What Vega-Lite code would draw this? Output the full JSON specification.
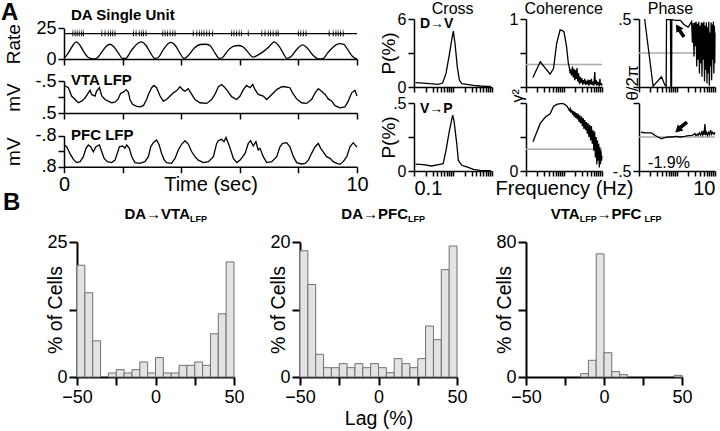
{
"$schema": "https://vega.github.io/schema/vega-lite/v6.json",
"width": 720,
"height": 431,
"padding": 0,
"autosize": {"type": "none"},
"background": "white",
"config": {
  "font": "Liberation Sans",
  "view": {"stroke": null},
  "axis": {"domainColor": "#000", "domainWidth": 1.5, "tickColor": "#000", "tickWidth": 1.5, "labelColor": "#000", "titleColor": "#000", "grid": false, "titleFontWeight": "normal", "labelFontSize": 18, "titleFontSize": 19, "tickSize": 6, "labelPadding": 2, "labelFlush": false, "labelOverlap": false, "labelBound": false},
  "line": {"color": "#000", "strokeWidth": 1.3},
  "text": {"color": "#000"}
},
"datasets": {
  "rate": [{"t":0,"r":0.5},{"t":0.15,"r":5},{"t":0.3,"r":11},{"t":0.42,"r":14},{"t":0.55,"r":11},{"t":0.7,"r":5},{"t":0.85,"r":1},{"t":1.0,"r":0},{"t":1.1,"r":0.5},{"t":1.3,"r":6},{"t":1.45,"r":10.5},{"t":1.57,"r":12},{"t":1.7,"r":10},{"t":1.85,"r":5},{"t":2.0,"r":0.5},{"t":2.1,"r":0.5},{"t":2.3,"r":7},{"t":2.5,"r":12.5},{"t":2.65,"r":14},{"t":2.8,"r":11},{"t":2.95,"r":5},{"t":3.1,"r":0.5},{"t":3.2,"r":1},{"t":3.4,"r":8},{"t":3.55,"r":12.5},{"t":3.65,"r":13.5},{"t":3.8,"r":11},{"t":3.95,"r":5},{"t":4.1,"r":0.5},{"t":4.25,"r":3},{"t":4.45,"r":9},{"t":4.65,"r":11.8},{"t":4.85,"r":12},{"t":5.0,"r":10.5},{"t":5.15,"r":5},{"t":5.3,"r":0.5},{"t":5.4,"r":1},{"t":5.6,"r":7},{"t":5.8,"r":10.5},{"t":5.95,"r":11},{"t":6.1,"r":10},{"t":6.3,"r":5},{"t":6.45,"r":1.5},{"t":6.6,"r":3},{"t":6.8,"r":6},{"t":7.0,"r":10},{"t":7.17,"r":14},{"t":7.35,"r":10},{"t":7.5,"r":4},{"t":7.6,"r":0.5},{"t":7.75,"r":2},{"t":7.95,"r":8},{"t":8.15,"r":11.5},{"t":8.3,"r":9},{"t":8.5,"r":3},{"t":8.7,"r":0},{"t":8.85,"r":0.5},{"t":9.0,"r":5},{"t":9.2,"r":10},{"t":9.4,"r":12.5},{"t":9.55,"r":12},{"t":9.7,"r":7},{"t":9.85,"r":2},{"t":10,"r":0}],
  "spikes": [{"t":0.30},{"t":0.38},{"t":0.45},{"t":0.52},{"t":0.60},{"t":0.66},{"t":1.29},{"t":1.40},{"t":1.51},{"t":1.59},{"t":1.66},{"t":1.74},{"t":2.37},{"t":2.46},{"t":2.57},{"t":2.65},{"t":2.71},{"t":2.80},{"t":3.37},{"t":3.45},{"t":3.53},{"t":3.62},{"t":3.71},{"t":3.79},{"t":4.41},{"t":4.53},{"t":4.62},{"t":4.70},{"t":4.78},{"t":4.87},{"t":4.96},{"t":5.07},{"t":5.72},{"t":5.80},{"t":5.89},{"t":5.98},{"t":6.06},{"t":6.29},{"t":6.75},{"t":6.86},{"t":6.97},{"t":7.05},{"t":7.14},{"t":7.24},{"t":7.31},{"t":8.0},{"t":8.08},{"t":8.17},{"t":8.26},{"t":9.05},{"t":9.19},{"t":9.28},{"t":9.36},{"t":9.44},{"t":9.53}],
  "vta": [{"t":0.01,"v":-0.36},{"t":0.15,"v":-0.29},{"t":0.26,"v":-0.03},{"t":0.38,"v":0.08},{"t":0.49,"v":0.18},{"t":0.6,"v":0.13},{"t":0.72,"v":0.03},{"t":0.83,"v":-0.13},{"t":0.89,"v":-0.21},{"t":0.94,"v":-0.08},{"t":1.06,"v":-0.03},{"t":1.11,"v":-0.18},{"t":1.21,"v":-0.29},{"t":1.29,"v":-0.03},{"t":1.4,"v":0.08},{"t":1.51,"v":0.13},{"t":1.63,"v":0.18},{"t":1.74,"v":0.16},{"t":1.85,"v":0.06},{"t":1.93,"v":-0.11},{"t":2.03,"v":-0.15},{"t":2.12,"v":-0.23},{"t":2.2,"v":-0.15},{"t":2.25,"v":0.08},{"t":2.34,"v":0.23},{"t":2.48,"v":0.29},{"t":2.59,"v":0.31},{"t":2.71,"v":0.27},{"t":2.82,"v":0.08},{"t":2.88,"v":-0.08},{"t":2.99,"v":-0.29},{"t":3.07,"v":-0.36},{"t":3.16,"v":-0.29},{"t":3.28,"v":-0.03},{"t":3.39,"v":0.13},{"t":3.5,"v":0.08},{"t":3.62,"v":-0.03},{"t":3.73,"v":-0.13},{"t":3.85,"v":-0.2},{"t":3.96,"v":-0.32},{"t":4.05,"v":-0.23},{"t":4.13,"v":-0.18},{"t":4.24,"v":-0.26},{"t":4.36,"v":-0.08},{"t":4.47,"v":0.08},{"t":4.64,"v":0.18},{"t":4.87,"v":0.2},{"t":5.04,"v":0.08},{"t":5.15,"v":-0.08},{"t":5.27,"v":-0.32},{"t":5.38,"v":-0.39},{"t":5.46,"v":-0.32},{"t":5.55,"v":-0.23},{"t":5.72,"v":-0.01},{"t":5.89,"v":0.08},{"t":6.01,"v":-0.03},{"t":6.12,"v":-0.23},{"t":6.23,"v":-0.36},{"t":6.35,"v":-0.29},{"t":6.44,"v":-0.39},{"t":6.52,"v":-0.23},{"t":6.63,"v":-0.08},{"t":6.8,"v":-0.03},{"t":6.92,"v":0.08},{"t":7.09,"v":-0.08},{"t":7.26,"v":-0.23},{"t":7.43,"v":-0.32},{"t":7.54,"v":-0.32},{"t":7.71,"v":-0.29},{"t":7.8,"v":-0.13},{"t":7.94,"v":0.06},{"t":8.11,"v":0.18},{"t":8.28,"v":0.2},{"t":8.45,"v":0.08},{"t":8.57,"v":-0.13},{"t":8.68,"v":-0.26},{"t":8.79,"v":-0.18},{"t":8.91,"v":-0.08},{"t":9.02,"v":0.06},{"t":9.14,"v":0.13},{"t":9.25,"v":0.27},{"t":9.42,"v":0.34},{"t":9.59,"v":0.31},{"t":9.7,"v":0.13},{"t":9.82,"v":-0.13},{"t":9.93,"v":-0.21},{"t":10,"v":-0.03}],
  "pfc": [{"t":0.01,"v":-0.32},{"t":0.09,"v":-0.23},{"t":0.2,"v":0.11},{"t":0.32,"v":0.42},{"t":0.43,"v":0.59},{"t":0.55,"v":0.54},{"t":0.66,"v":0.28},{"t":0.75,"v":-0.15},{"t":0.83,"v":-0.32},{"t":0.91,"v":-0.23},{"t":1.0,"v":0.03},{"t":1.09,"v":-0.23},{"t":1.21,"v":-0.32},{"t":1.29,"v":0.03},{"t":1.37,"v":0.37},{"t":1.48,"v":0.54},{"t":1.63,"v":0.59},{"t":1.74,"v":0.46},{"t":1.82,"v":0.11},{"t":1.89,"v":-0.23},{"t":2.0,"v":-0.27},{"t":2.08,"v":-0.15},{"t":2.14,"v":-0.32},{"t":2.23,"v":-0.15},{"t":2.31,"v":0.28},{"t":2.42,"v":0.59},{"t":2.59,"v":0.63},{"t":2.76,"v":0.54},{"t":2.88,"v":0.28},{"t":2.96,"v":-0.23},{"t":3.05,"v":-0.44},{"t":3.16,"v":-0.58},{"t":3.25,"v":-0.32},{"t":3.33,"v":0.11},{"t":3.41,"v":0.42},{"t":3.5,"v":0.59},{"t":3.67,"v":0.63},{"t":3.79,"v":0.37},{"t":3.9,"v":-0.06},{"t":4.02,"v":-0.37},{"t":4.13,"v":-0.54},{"t":4.24,"v":-0.37},{"t":4.36,"v":0.03},{"t":4.47,"v":0.28},{"t":4.58,"v":0.46},{"t":4.76,"v":0.59},{"t":4.93,"v":0.54},{"t":5.1,"v":0.28},{"t":5.21,"v":-0.4},{"t":5.27,"v":-0.54},{"t":5.38,"v":-0.61},{"t":5.46,"v":-0.49},{"t":5.53,"v":-0.71},{"t":5.61,"v":-0.4},{"t":5.67,"v":-0.15},{"t":5.78,"v":0.37},{"t":5.9,"v":0.59},{"t":6.01,"v":0.46},{"t":6.18,"v":0.11},{"t":6.29,"v":-0.4},{"t":6.37,"v":-0.54},{"t":6.46,"v":-0.27},{"t":6.55,"v":-0.49},{"t":6.63,"v":-0.06},{"t":6.69,"v":-0.15},{"t":6.8,"v":0.28},{"t":6.92,"v":0.59},{"t":7.09,"v":0.54},{"t":7.26,"v":0.28},{"t":7.37,"v":-0.23},{"t":7.46,"v":-0.4},{"t":7.6,"v":-0.44},{"t":7.71,"v":-0.23},{"t":7.83,"v":0.28},{"t":7.94,"v":0.59},{"t":8.11,"v":0.66},{"t":8.23,"v":0.63},{"t":8.34,"v":0.46},{"t":8.45,"v":0.11},{"t":8.57,"v":-0.23},{"t":8.68,"v":-0.4},{"t":8.76,"v":-0.15},{"t":8.85,"v":0.03},{"t":8.96,"v":0.28},{"t":9.08,"v":0.37},{"t":9.19,"v":0.54},{"t":9.31,"v":0.63},{"t":9.42,"v":0.68},{"t":9.53,"v":0.54},{"t":9.65,"v":0.28},{"t":9.76,"v":-0.23},{"t":9.87,"v":-0.44},{"t":9.99,"v":-0.23},{"t":10,"v":-0.2}],
  "cdv": [{"f":0.11,"p":0.38},{"f":0.171,"p":0.35},{"f":0.254,"p":0.29},{"f":0.417,"p":0.24},{"f":0.54,"p":0.35},{"f":0.66,"p":1.18},{"f":0.8,"p":2.8},{"f":0.92,"p":4.1},{"f":1.02,"p":4.94},{"f":1.13,"p":3.8},{"f":1.29,"p":1.76},{"f":1.46,"p":0.59},{"f":1.68,"p":0.29},{"f":2.25,"p":0.24},{"f":3.36,"p":0.15},{"f":5.0,"p":0.09},{"f":7.4,"p":0.06},{"f":9.3,"p":0.06}],
  "cvp": [{"f":0.11,"p":0.05},{"f":0.171,"p":0.047},{"f":0.28,"p":0.037},{"f":0.46,"p":0.049},{"f":0.56,"p":0.054},{"f":0.66,"p":0.15},{"f":0.8,"p":0.29},{"f":0.98,"p":0.41},{"f":1.06,"p":0.37},{"f":1.25,"p":0.2},{"f":1.37,"p":0.078},{"f":1.68,"p":0.042},{"f":2.04,"p":0.034},{"f":2.25,"p":0.03},{"f":3.36,"p":0.012},{"f":5,"p":0.005},{"f":9.3,"p":0.002}],
  "ctop": [{"f":0.152,"c":0.14},{"f":0.237,"c":0.37},{"f":0.43,"c":0.19},{"f":0.53,"c":0.27},{"f":0.64,"c":0.64},{"f":0.79,"c":0.84},{"f":0.9,"c":0.83},{"f":1.0,"c":0.81},{"f":1.17,"c":0.59},{"f":1.3,"c":0.35},{"f":1.38,"c":0.29},{"f":1.45,"c":0.2},{"f":1.52,"c":0.26},{"f":1.58,"c":0.17},{"f":1.66,"c":0.3},{"f":1.75,"c":0.14},{"f":1.83,"c":0.27},{"f":1.92,"c":0.1},{"f":2.0,"c":0.25},{"f":2.1,"c":0.12},{"f":2.2,"c":0.28},{"f":2.3,"c":0.08},{"f":2.42,"c":0.2},{"f":2.55,"c":0.04},{"f":2.68,"c":0.15},{"f":2.8,"c":0.06},{"f":2.95,"c":0.13},{"f":3.1,"c":0.03},{"f":3.25,"c":0.1},{"f":3.4,"c":0.05},{"f":3.55,"c":0.12},{"f":3.7,"c":0.03},{"f":3.9,"c":0.09},{"f":4.1,"c":0.04},{"f":4.3,"c":0.11},{"f":4.5,"c":0.02},{"f":4.75,"c":0.1},{"f":5.0,"c":0.04},{"f":5.25,"c":0.12},{"f":5.5,"c":0.03},{"f":5.8,"c":0.08},{"f":6.1,"c":0.02},{"f":6.45,"c":0.22},{"f":6.7,"c":0.04},{"f":7.0,"c":0.1},{"f":7.3,"c":0.02},{"f":7.6,"c":0.08},{"f":7.9,"c":0.03},{"f":8.2,"c":0.07},{"f":8.5,"c":0.01},{"f":8.8,"c":0.12},{"f":9.1,"c":0.03},{"f":9.4,"c":0.06},{"f":9.7,"c":0.02},{"f":10,"c":0.05}],
  "cbot": [{"f":0.152,"c":0.43},{"f":0.237,"c":0.7},{"f":0.32,"c":0.79},{"f":0.43,"c":0.84},{"f":0.53,"c":0.95},{"f":0.64,"c":0.98},{"f":0.8,"c":0.99},{"f":0.96,"c":0.99},{"f":1.1,"c":0.97},{"f":1.22,"c":0.95},{"f":1.3,"c":0.92},{"f":1.38,"c":0.89},{"f":1.45,"c":0.92},{"f":1.52,"c":0.86},{"f":1.6,"c":0.9},{"f":1.68,"c":0.83},{"f":1.76,"c":0.88},{"f":1.85,"c":0.8},{"f":1.94,"c":0.87},{"f":2.04,"c":0.78},{"f":2.14,"c":0.85},{"f":2.25,"c":0.76},{"f":2.37,"c":0.84},{"f":2.5,"c":0.72},{"f":2.62,"c":0.82},{"f":2.75,"c":0.7},{"f":2.9,"c":0.8},{"f":3.05,"c":0.66},{"f":3.2,"c":0.78},{"f":3.35,"c":0.62},{"f":3.52,"c":0.75},{"f":3.7,"c":0.6},{"f":3.9,"c":0.72},{"f":4.1,"c":0.55},{"f":4.3,"c":0.7},{"f":4.52,"c":0.5},{"f":4.77,"c":0.68},{"f":5.0,"c":0.45},{"f":5.27,"c":0.66},{"f":5.55,"c":0.4},{"f":5.82,"c":0.6},{"f":6.1,"c":0.3},{"f":6.4,"c":0.58},{"f":6.7,"c":0.2},{"f":7.0,"c":0.5},{"f":7.3,"c":0.1},{"f":7.6,"c":0.45},{"f":7.9,"c":0.15},{"f":8.2,"c":0.4},{"f":8.5,"c":0.05},{"f":8.8,"c":0.35},{"f":9.1,"c":0.1},{"f":9.4,"c":0.3},{"f":9.7,"c":0.15},{"f":10,"c":0.22}],
  "ptop": [{"f":0.141,"ph":0.5},{"f":0.235,"ph":-0.49},{"f":0.389,"ph":-0.35},{"f":0.478,"ph":-0.47},{"f":0.52,"ph":-0.49},{"f":0.53,"ph":0.49},{"f":0.673,"ph":0.49},{"f":0.69,"ph":-0.5},{"f":0.72,"ph":-0.5},{"f":0.73,"ph":0.49},{"f":0.97,"ph":0.48},{"f":1.24,"ph":0.48},{"f":1.51,"ph":0.42},{"f":1.97,"ph":0.38},{"f":2.42,"ph":0.46},{"f":2.55,"ph":0.15},{"f":2.67,"ph":0.44},{"f":2.8,"ph":-0.05},{"f":2.92,"ph":0.45},{"f":3.05,"ph":0.1},{"f":3.18,"ph":0.46},{"f":3.3,"ph":-0.2},{"f":3.45,"ph":0.43},{"f":3.6,"ph":-0.1},{"f":3.75,"ph":0.46},{"f":3.9,"ph":-0.3},{"f":4.05,"ph":0.4},{"f":4.2,"ph":-0.15},{"f":4.38,"ph":0.45},{"f":4.55,"ph":-0.35},{"f":4.72,"ph":0.44},{"f":4.9,"ph":-0.1},{"f":5.1,"ph":0.46},{"f":5.3,"ph":-0.42},{"f":5.5,"ph":0.4},{"f":5.7,"ph":-0.25},{"f":5.92,"ph":0.45},{"f":6.15,"ph":-0.45},{"f":6.38,"ph":0.38},{"f":6.6,"ph":-0.3},{"f":6.85,"ph":0.46},{"f":7.1,"ph":-0.48},{"f":7.35,"ph":0.3},{"f":7.6,"ph":-0.2},{"f":7.9,"ph":0.45},{"f":8.15,"ph":-0.4},{"f":8.45,"ph":0.42},{"f":8.75,"ph":-0.1},{"f":9.05,"ph":0.46},{"f":9.35,"ph":-0.3},{"f":9.65,"ph":0.4},{"f":9.85,"ph":-0.15},{"f":10,"ph":0.3}],
  "pbot": [{"f":0.113,"ph":0.07},{"f":0.15,"ph":0.06},{"f":0.212,"ph":0.06},{"f":0.26,"ph":0.025},{"f":0.318,"ph":0.0},{"f":0.389,"ph":-0.025},{"f":0.476,"ph":-0.01},{"f":0.584,"ph":0.0},{"f":0.716,"ph":0.0},{"f":0.97,"ph":0.01},{"f":1.19,"ph":0.0},{"f":1.61,"ph":0.01},{"f":1.97,"ph":0.02},{"f":2.42,"ph":0.025},{"f":2.67,"ph":0.03},{"f":2.96,"ph":0.05},{"f":3.15,"ph":0.02},{"f":3.41,"ph":0.04},{"f":3.62,"ph":0.025},{"f":3.85,"ph":0.06},{"f":4.18,"ph":0.03},{"f":4.44,"ph":0.07},{"f":4.72,"ph":0.03},{"f":4.92,"ph":0.09},{"f":5.12,"ph":0.03},{"f":5.44,"ph":0.19},{"f":5.67,"ph":0.025},{"f":6.03,"ph":0.07},{"f":6.4,"ph":0.025},{"f":6.8,"ph":0.07},{"f":7.23,"ph":0.035},{"f":7.68,"ph":0.1},{"f":8.16,"ph":0.04},{"f":8.67,"ph":0.07},{"f":9.41,"ph":0.04},{"f":10,"ph":0.07}],
  "h1": [{"lo":-50,"hi":-45,"pct":20.7},{"lo":-45,"hi":-40,"pct":15.6},{"lo":-40,"hi":-35,"pct":6.7},{"lo":-30,"hi":-25,"pct":0.74},{"lo":-25,"hi":-20,"pct":1.36},{"lo":-20,"hi":-15,"pct":0.74},{"lo":-15,"hi":-10,"pct":1.36},{"lo":-10,"hi":-5,"pct":2.78},{"lo":-5,"hi":0,"pct":0.74},{"lo":0,"hi":5,"pct":3.58},{"lo":5,"hi":10,"pct":0.74},{"lo":10,"hi":15,"pct":0.74},{"lo":15,"hi":20,"pct":2.16},{"lo":20,"hi":25,"pct":2.16},{"lo":25,"hi":30,"pct":2.78},{"lo":30,"hi":35,"pct":2.16},{"lo":35,"hi":40,"pct":8.0},{"lo":40,"hi":45,"pct":11.7},{"lo":45,"hi":50,"pct":21.3}],
  "h2": [{"lo":-50,"hi":-45,"pct":18.7},{"lo":-45,"hi":-40,"pct":13.7},{"lo":-40,"hi":-35,"pct":3.36},{"lo":-35,"hi":-30,"pct":1.38},{"lo":-30,"hi":-25,"pct":1.38},{"lo":-25,"hi":-20,"pct":1.98},{"lo":-20,"hi":-15,"pct":1.38},{"lo":-15,"hi":-10,"pct":1.98},{"lo":-10,"hi":-5,"pct":1.38},{"lo":-5,"hi":0,"pct":1.98},{"lo":0,"hi":5,"pct":1.38},{"lo":5,"hi":10,"pct":0.64},{"lo":10,"hi":15,"pct":2.72},{"lo":15,"hi":20,"pct":1.98},{"lo":20,"hi":25,"pct":1.38},{"lo":25,"hi":30,"pct":2.72},{"lo":30,"hi":35,"pct":7.56},{"lo":35,"hi":40,"pct":5.53},{"lo":40,"hi":45,"pct":15.9},{"lo":45,"hi":50,"pct":19.4}],
  "h3": [{"lo":-15,"hi":-10,"pct":2.0},{"lo":-10,"hi":-5,"pct":9.9},{"lo":-5,"hi":0,"pct":73},{"lo":0,"hi":5,"pct":14.4},{"lo":5,"hi":10,"pct":3.2},{"lo":10,"hi":15,"pct":1.4},{"lo":45,"hi":50,"pct":1.0}],
  "one": [{}]
},
"resolve": {"scale": {"x": "independent", "y": "independent"}, "axis": {"x": "independent", "y": "independent"}},
"layer": [
  {"layer": [
    {"data": {"name": "rate"}, "mark": {"type": "line", "interpolate": "monotone"},
     "encoding": {"x": {"field": "t", "type": "quantitative", "scale": {"domain": [0, 10], "range": [64, 357], "nice": false}, "axis": {"orient": "bottom", "offset": -372, "values": [0,2,4,6,8,10], "labels": false, "title": null}},
                  "y": {"field": "r", "type": "quantitative", "scale": {"domain": [0, 25], "range": [59, 28.3], "nice": false}, "axis": {"orient": "left", "offset": -64, "values": [0, 25], "title": "Rate", "titleX": -41, "titleBaseline": "bottom"}}}},
    {"data": {"name": "one"}, "mark": {"type": "rule", "strokeWidth": 1.2, "color": "#000"}, "encoding": {"x": {"datum": 0}, "x2": {"datum": 10}, "y": {"datum": 20.7}}},
    {"data": {"name": "spikes"}, "mark": {"type": "rule", "strokeWidth": 1, "color": "#000"}, "encoding": {"x": {"field": "t", "type": "quantitative"}, "y": {"datum": 18.5}, "y2": {"datum": 22.5}}},
    {"data": {"name": "spikes"}, "mark": {"type": "rule", "strokeWidth": 1, "color": "#8a8a8a"}, "encoding": {"x": {"field": "t", "type": "quantitative"}, "y": {"datum": 22.5}, "y2": {"datum": 24}}},
    {"data": {"name": "one"}, "mark": {"type": "text", "fontSize": 15, "fontWeight": "bold", "align": "left", "baseline": "alphabetic"}, "encoding": {"x": {"datum": 0.24}, "y": {"datum": 31.8}, "text": {"value": "DA Single Unit"}}},
    {"data": {"name": "one"}, "mark": {"type": "text", "fontSize": 24, "fontWeight": "bold", "align": "left", "baseline": "alphabetic"}, "encoding": {"x": {"datum": -2.15}, "y": {"datum": 31.76}, "text": {"value": "A"}}}
  ]},
  {"layer": [
    {"data": {"name": "vta"}, "mark": {"type": "line"},
     "encoding": {"x": {"field": "t", "type": "quantitative", "scale": {"domain": [0, 10], "range": [64, 357], "nice": false}, "axis": {"orient": "bottom", "offset": -318, "values": [0,2,4,6,8,10], "labels": false, "title": null}},
                  "y": {"field": "v", "type": "quantitative", "scale": {"domain": [-0.5, 0.5], "range": [81, 113], "nice": false}, "axis": {"orient": "left", "offset": -64, "values": [-0.5, 0, 0.5], "title": "mV", "titleX": -41, "titleBaseline": "bottom", "labelExpr": "datum.value == 0 ? '' : (datum.value < 0 ? '-.5' : '.5')"}}}},
    {"data": {"name": "one"}, "mark": {"type": "text", "fontSize": 15, "fontWeight": "bold", "align": "left", "baseline": "alphabetic"}, "encoding": {"x": {"datum": 0.24}, "y": {"datum": -0.39}, "text": {"value": "VTA LFP"}}}
  ]},
  {"layer": [
    {"data": {"name": "pfc"}, "mark": {"type": "line"},
     "encoding": {"x": {"field": "t", "type": "quantitative", "scale": {"domain": [0, 10], "range": [64, 357], "nice": false}, "axis": {"orient": "bottom", "offset": -264.3, "values": [0,2,4,6,8,10], "labelExpr": "datum.value == 0 ? '0' : (datum.value == 10 ? '10' : '')", "labelFontSize": 20, "title": "Time (sec)", "titleFontSize": 20, "titleY": 8, "titleBaseline": "top"}},
                  "y": {"field": "v", "type": "quantitative", "scale": {"domain": [-0.8, 0.8], "range": [135.7, 166.7], "nice": false}, "axis": {"orient": "left", "offset": -64, "values": [-0.8, 0, 0.8], "title": "mV", "titleX": -41, "titleBaseline": "bottom", "labelExpr": "datum.value == 0 ? '' : (datum.value < 0 ? '-.8' : '.8')"}}}},
    {"data": {"name": "one"}, "mark": {"type": "text", "fontSize": 15, "fontWeight": "bold", "align": "left", "baseline": "alphabetic"}, "encoding": {"x": {"datum": 0.24}, "y": {"datum": -0.58}, "text": {"value": "PFC LFP"}}},
    {"data": {"name": "one"}, "mark": {"type": "text", "fontSize": 15, "fontWeight": "bold", "align": "right", "baseline": "alphabetic", "dy": -26}, "encoding": {"x": {"datum": 4.3}, "y": {"datum": 4.86}, "text": {"value": "DA→VTA"}}},
    {"data": {"name": "one"}, "mark": {"type": "text", "fontSize": 9, "fontWeight": "bold", "align": "left", "baseline": "alphabetic", "dy": -23}, "encoding": {"x": {"datum": 4.3}, "y": {"datum": 4.86}, "text": {"value": "LFP"}}},
    {"data": {"name": "one"}, "mark": {"type": "text", "fontSize": 15, "fontWeight": "bold", "align": "right", "baseline": "alphabetic", "dy": -26}, "encoding": {"x": {"datum": 11.74}, "y": {"datum": 4.86}, "text": {"value": "DA→PFC"}}},
    {"data": {"name": "one"}, "mark": {"type": "text", "fontSize": 9, "fontWeight": "bold", "align": "left", "baseline": "alphabetic", "dy": -23}, "encoding": {"x": {"datum": 11.74}, "y": {"datum": 4.86}, "text": {"value": "LFP"}}},
    {"data": {"name": "one"}, "mark": {"type": "text", "fontSize": 15, "fontWeight": "bold", "align": "right", "baseline": "alphabetic", "dy": -26}, "encoding": {"x": {"datum": 17.6}, "y": {"datum": 4.86}, "text": {"value": "VTA"}}},
    {"data": {"name": "one"}, "mark": {"type": "text", "fontSize": 9, "fontWeight": "bold", "align": "left", "baseline": "alphabetic", "dy": -23}, "encoding": {"x": {"datum": 17.6}, "y": {"datum": 4.86}, "text": {"value": "LFP"}}},
    {"data": {"name": "one"}, "mark": {"type": "text", "fontSize": 15, "fontWeight": "bold", "align": "left", "baseline": "alphabetic", "dy": -26}, "encoding": {"x": {"datum": 18.17}, "y": {"datum": 4.86}, "text": {"value": "→PFC"}}},
    {"data": {"name": "one"}, "mark": {"type": "text", "fontSize": 9, "fontWeight": "bold", "align": "left", "baseline": "alphabetic", "dy": -23}, "encoding": {"x": {"datum": 19.81}, "y": {"datum": 4.86}, "text": {"value": "LFP"}}},
    {"data": {"name": "one"}, "mark": {"type": "text", "fontSize": 24, "fontWeight": "bold", "align": "left", "baseline": "alphabetic", "dy": -26}, "encoding": {"x": {"datum": -2.08}, "y": {"datum": 4.38}, "text": {"value": "B"}}}
  ]},
  {"layer": [
    {"data": {"name": "cdv"}, "mark": {"type": "line"},
     "encoding": {"x": {"field": "f", "type": "quantitative", "scale": {"type": "log", "domain": [0.1, 10], "range": [414, 492], "nice": false}, "axis": {"orient": "bottom", "offset": -344, "values": [0.1,0.2,0.3,0.4,0.5,0.6,0.7,0.8,0.9,1,2,3,4,5,6,7,8,9,10], "labels": false, "title": null, "tickSize": 5}},
                  "y": {"field": "p", "type": "quantitative", "scale": {"domain": [0, 6], "range": [87, 19], "nice": false}, "axis": {"orient": "left", "offset": -414, "values": [0, 3, 6], "title": "P(%)", "titleX": -16, "titleBaseline": "bottom", "labelFontSize": 16, "labelExpr": "datum.value == 6 ? '6' : (datum.value == 0 ? '0' : '')"}}}},
    {"data": {"name": "one"}, "mark": {"type": "text", "fontSize": 14, "fontWeight": "bold", "align": "left", "baseline": "alphabetic"}, "encoding": {"x": {"datum": 0.1425}, "y": {"datum": 5.2}, "text": {"value": "D→V"}}},
    {"data": {"name": "one"}, "mark": {"type": "text", "fontSize": 16, "align": "center", "baseline": "alphabetic"}, "encoding": {"x": {"datum": 0.98}, "y": {"datum": 6.44}, "text": {"value": "Cross"}}}
  ]},
  {"layer": [
    {"data": {"name": "cvp"}, "mark": {"type": "line"},
     "encoding": {"x": {"field": "f", "type": "quantitative", "scale": {"type": "log", "domain": [0.1, 10], "range": [414, 492], "nice": false}, "axis": {"orient": "bottom", "offset": -260, "values": [0.1,0.2,0.3,0.4,0.5,0.6,0.7,0.8,0.9,1,2,3,4,5,6,7,8,9,10], "labelExpr": "datum.value == 0.1 ? '0.1' : ''", "labelFontSize": 20, "labelFlush": true, "title": null, "tickSize": 5}},
                  "y": {"field": "p", "type": "quantitative", "scale": {"domain": [0, 0.5], "range": [171, 103], "nice": false}, "axis": {"orient": "left", "offset": -414, "values": [0, 0.25, 0.5], "title": "P(%)", "titleX": -16, "titleBaseline": "bottom", "labelFontSize": 16, "labelExpr": "datum.value == 0.5 ? '.5' : (datum.value == 0 ? '0' : '')"}}}},
    {"data": {"name": "one"}, "mark": {"type": "text", "fontSize": 14, "fontWeight": "bold", "align": "left", "baseline": "alphabetic"}, "encoding": {"x": {"datum": 0.1425}, "y": {"datum": 0.426}, "text": {"value": "V→P"}}}
  ]},
  {"layer": [
    {"data": {"name": "one"}, "mark": {"type": "rule", "strokeWidth": 1.5, "color": "#aaaaaa"}, "encoding": {"x": {"datum": 0.1}, "x2": {"datum": 10}, "y": {"datum": 0.33}}},
    {"data": {"name": "ctop"}, "mark": {"type": "line"},
     "encoding": {"x": {"field": "f", "type": "quantitative", "scale": {"type": "log", "domain": [0.1, 10], "range": [526, 602], "nice": false}, "axis": {"orient": "bottom", "offset": -344, "values": [0.1,0.2,0.3,0.4,0.5,0.6,0.7,0.8,0.9,1,2,3,4,5,6,7,8,9,10], "labels": false, "title": null, "tickSize": 5}},
                  "y": {"field": "c", "type": "quantitative", "scale": {"domain": [0, 1], "range": [87, 19], "nice": false}, "axis": {"orient": "left", "offset": -526, "values": [0, 0.5, 1], "title": null, "labelFontSize": 16, "labelExpr": "datum.value == 1 ? '1' : ''"}}}},
    {"data": {"name": "one"}, "mark": {"type": "text", "fontSize": 16, "angle": 270, "align": "center", "baseline": "middle"}, "encoding": {"x": {"datum": 0.0617}, "y": {"datum": -0.13}, "text": {"value": "γ²"}}},
    {"data": {"name": "one"}, "mark": {"type": "text", "fontSize": 16, "align": "center", "baseline": "alphabetic"}, "encoding": {"x": {"datum": 0.98}, "y": {"datum": 1.07}, "text": {"value": "Coherence"}}}
  ]},
  {"layer": [
    {"data": {"name": "one"}, "mark": {"type": "rule", "strokeWidth": 1.5, "color": "#aaaaaa"}, "encoding": {"x": {"datum": 0.1}, "x2": {"datum": 10}, "y": {"datum": 0.32}}},
    {"data": {"name": "cbot"}, "mark": {"type": "line"},
     "encoding": {"x": {"field": "f", "type": "quantitative", "scale": {"type": "log", "domain": [0.1, 10], "range": [526, 602], "nice": false}, "axis": {"orient": "bottom", "offset": -260, "values": [0.1,0.2,0.3,0.4,0.5,0.6,0.7,0.8,0.9,1,2,3,4,5,6,7,8,9,10], "labels": false, "title": "Frequency (Hz)", "titleFontSize": 20, "titleY": 7, "titleBaseline": "top", "tickSize": 5}},
                  "y": {"field": "c", "type": "quantitative", "scale": {"domain": [0, 1], "range": [171, 103], "nice": false}, "axis": {"orient": "left", "offset": -526, "values": [0, 0.5, 1], "title": null, "labelFontSize": 16, "labelExpr": "datum.value == 0 ? '0' : ''"}}}}
  ]},
  {"layer": [
    {"data": {"name": "one"}, "mark": {"type": "rule", "strokeWidth": 1.5, "color": "#aaaaaa"}, "encoding": {"x": {"datum": 0.1}, "x2": {"datum": 10}, "y": {"datum": 0}}},
    {"data": {"name": "ptop"}, "mark": {"type": "line"},
     "encoding": {"x": {"field": "f", "type": "quantitative", "scale": {"type": "log", "domain": [0.1, 10], "range": [639, 715], "nice": false}, "axis": {"orient": "bottom", "offset": -344, "values": [0.1,0.2,0.3,0.4,0.5,0.6,0.7,0.8,0.9,1,2,3,4,5,6,7,8,9,10], "labels": false, "title": null, "tickSize": 5}},
                  "y": {"field": "ph", "type": "quantitative", "scale": {"domain": [-0.5, 0.5], "range": [87, 19], "nice": false}, "axis": {"orient": "left", "offset": -639, "values": [-0.5, 0.5], "title": null, "labelFontSize": 16, "labelExpr": "datum.value == 0.5 ? '.5' : ''"}}}},
    {"data": {"name": "one"}, "mark": {"type": "rule", "strokeWidth": 3.5, "color": "#000"}, "encoding": {"x": {"datum": 1.53}, "x2": {"datum": 1.12}, "y": {"datum": 0.235}, "y2": {"datum": 0.35}}},
    {"data": {"name": "one"}, "mark": {"type": "point", "shape": "triangle-up", "filled": true, "size": 70, "angle": 328, "color": "#000", "opacity": 1}, "encoding": {"x": {"datum": 1.06}, "y": {"datum": 0.375}}},
    {"data": {"name": "one"}, "mark": {"type": "text", "fontSize": 17, "angle": 270, "align": "center", "baseline": "middle"}, "encoding": {"x": {"datum": 0.0695}, "y": {"datum": -0.44}, "text": {"value": "θ/2π"}}},
    {"data": {"name": "one"}, "mark": {"type": "text", "fontSize": 16, "align": "center", "baseline": "alphabetic"}, "encoding": {"x": {"datum": 0.674}, "y": {"datum": 0.574}, "text": {"value": "Phase"}}}
  ]},
  {"layer": [
    {"data": {"name": "one"}, "mark": {"type": "rule", "strokeWidth": 1.5, "color": "#aaaaaa"}, "encoding": {"x": {"datum": 0.1}, "x2": {"datum": 10}, "y": {"datum": 0}}},
    {"data": {"name": "pbot"}, "mark": {"type": "line"},
     "encoding": {"x": {"field": "f", "type": "quantitative", "scale": {"type": "log", "domain": [0.1, 10], "range": [639, 715], "nice": false}, "axis": {"orient": "bottom", "offset": -260, "values": [0.1,0.2,0.3,0.4,0.5,0.6,0.7,0.8,0.9,1,2,3,4,5,6,7,8,9,10], "labelExpr": "datum.value == 10 ? '10' : ''", "labelFontSize": 20, "labelFlush": true, "title": null, "tickSize": 5}},
                  "y": {"field": "ph", "type": "quantitative", "scale": {"domain": [-0.5, 0.5], "range": [171, 103], "nice": false}, "axis": {"orient": "left", "offset": -639, "values": [-0.5, 0.5], "title": null, "labelFontSize": 16, "labelExpr": "datum.value == -0.5 ? '-.5' : ''"}}}},
    {"data": {"name": "one"}, "mark": {"type": "rule", "strokeWidth": 3.5, "color": "#000"}, "encoding": {"x": {"datum": 1.83}, "x2": {"datum": 1.1}, "y": {"datum": 0.22}, "y2": {"datum": 0.12}}},
    {"data": {"name": "one"}, "mark": {"type": "point", "shape": "triangle-up", "filled": true, "size": 70, "angle": 227, "color": "#000", "opacity": 1}, "encoding": {"x": {"datum": 1.06}, "y": {"datum": 0.103}}},
    {"data": {"name": "one"}, "mark": {"type": "text", "fontSize": 16, "align": "center", "baseline": "middle"}, "encoding": {"x": {"datum": 0.616}, "y": {"datum": -0.378}, "text": {"value": "-1.9%"}}}
  ]},
  {"layer": [
    {"data": {"name": "h1"}, "mark": {"type": "bar", "fill": "#e3e3e3", "stroke": "#707070", "strokeWidth": 1},
     "encoding": {"x": {"field": "lo", "type": "quantitative", "scale": {"domain": [-50, 50], "range": [77, 234], "nice": false}, "axis": {"orient": "bottom", "offset": -54, "values": [-50,-25,0,25,50], "labelExpr": "datum.value == -25 || datum.value == 25 ? '' : datum.label", "tickSize": 8, "labelFontSize": 18, "domainWidth": 2, "tickWidth": 2, "title": null, "labelPadding": 3}},
                  "x2": {"field": "hi"},
                  "y": {"field": "pct", "type": "quantitative", "scale": {"domain": [0, 25], "range": [377, 242], "nice": false}, "axis": {"orient": "left", "offset": -77, "values": [0, 12.5, 25], "labelExpr": "datum.value == 12.5 ? '' : datum.label", "tickSize": 8, "labelFontSize": 18, "domainWidth": 2, "tickWidth": 2, "title": "% of Cells", "titleFontSize": 19.5, "titleX": -12, "titleBaseline": "bottom"}},
                  "y2": {"datum": 0}}}
  ]},
  {"layer": [
    {"data": {"name": "h2"}, "mark": {"type": "bar", "fill": "#e3e3e3", "stroke": "#707070", "strokeWidth": 1},
     "encoding": {"x": {"field": "lo", "type": "quantitative", "scale": {"domain": [-50, 50], "range": [300, 457], "nice": false}, "axis": {"orient": "bottom", "offset": -54, "values": [-50,-25,0,25,50], "labelExpr": "datum.value == -25 || datum.value == 25 ? '' : datum.label", "tickSize": 8, "labelFontSize": 18, "domainWidth": 2, "tickWidth": 2, "title": "Lag (%)", "titleFontSize": 19.5, "labelPadding": 3, "titlePadding": 3}},
                  "x2": {"field": "hi"},
                  "y": {"field": "pct", "type": "quantitative", "scale": {"domain": [0, 20], "range": [377, 242], "nice": false}, "axis": {"orient": "left", "offset": -300, "values": [0, 10, 20], "labelExpr": "datum.value == 10 ? '' : datum.label", "tickSize": 8, "labelFontSize": 18, "domainWidth": 2, "tickWidth": 2, "title": "% of Cells", "titleFontSize": 19.5, "titleX": -12, "titleBaseline": "bottom"}},
                  "y2": {"datum": 0}}}
  ]},
  {"layer": [
    {"data": {"name": "h3"}, "mark": {"type": "bar", "fill": "#e3e3e3", "stroke": "#707070", "strokeWidth": 1},
     "encoding": {"x": {"field": "lo", "type": "quantitative", "scale": {"domain": [-50, 50], "range": [526, 682], "nice": false}, "axis": {"orient": "bottom", "offset": -54, "values": [-50,-25,0,25,50], "labelExpr": "datum.value == -25 || datum.value == 25 ? '' : datum.label", "tickSize": 8, "labelFontSize": 18, "domainWidth": 2, "tickWidth": 2, "title": null, "labelPadding": 3}},
                  "x2": {"field": "hi"},
                  "y": {"field": "pct", "type": "quantitative", "scale": {"domain": [0, 80], "range": [377, 242], "nice": false}, "axis": {"orient": "left", "offset": -526, "values": [0, 40, 80], "labelExpr": "datum.value == 40 ? '' : datum.label", "tickSize": 8, "labelFontSize": 18, "domainWidth": 2, "tickWidth": 2, "title": "% of Cells", "titleFontSize": 19.5, "titleX": -12, "titleBaseline": "bottom"}},
                  "y2": {"datum": 0}}}
  ]}
]
}
